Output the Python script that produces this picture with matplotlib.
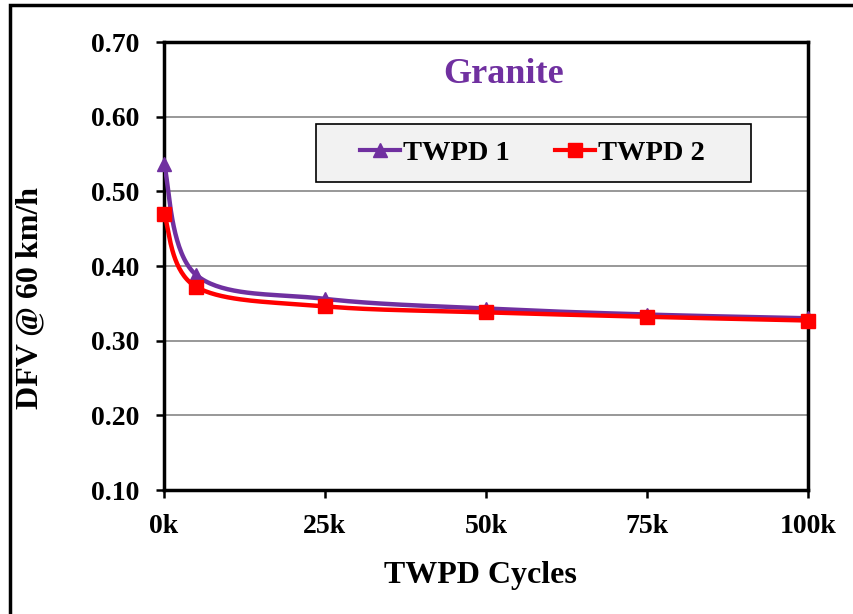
import numpy as np
import matplotlib
matplotlib.use("Agg")
import matplotlib.pyplot as plt
from matplotlib.patches import Rectangle

plt.rcParams['font.family'] = ['Liberation Serif', 'DejaVu Serif']
plt.rcParams['font.weight'] = 'bold'

cycles = [0, 5000, 25000, 50000, 75000, 100000]
twpd1 = [0.537, 0.388, 0.356, 0.343, 0.335, 0.330]
twpd2 = [0.470, 0.372, 0.346, 0.338, 0.332, 0.327]
xticks = [0, 25000, 50000, 75000, 100000]
xticklabels = ['0k', '25k', '50k', '75k', '100k']
yticks = [0.10, 0.20, 0.30, 0.40, 0.50, 0.60, 0.70]

XMIN, XMAX = 0, 100000
YMIN, YMAX = 0.10, 0.70


def excel_smooth(xs, ys, n=40):
    # Excel-style smoothed line: cubic bezier with 1/6 tension, done in axis-normalised space
    px = (np.array(xs, float) - XMIN) / (XMAX - XMIN)
    py = (np.array(ys, float) - YMIN) / (YMAX - YMIN)
    pts = np.column_stack([px, py])
    out = []
    t = np.linspace(0, 1, n)[:, None]
    for i in range(len(pts) - 1):
        p0 = pts[max(i - 1, 0)]
        p1 = pts[i]
        p2 = pts[i + 1]
        p3 = pts[min(i + 2, len(pts) - 1)]
        c1 = p1 + (p2 - p0) / 6
        c2 = p2 - (p3 - p1) / 6
        seg = (1 - t) ** 3 * p1 + 3 * (1 - t) ** 2 * t * c1 + 3 * (1 - t) * t ** 2 * c2 + t ** 3 * p2
        out.append(seg)
    out = np.vstack(out)
    return XMIN + out[:, 0] * (XMAX - XMIN), YMIN + out[:, 1] * (YMAX - YMIN)


fig = plt.figure(figsize=(8.54, 6.14), dpi=100)
ax = fig.add_axes([164 / 854, 1 - 490 / 614, 644 / 854, 448 / 614])

purple = '#7030A0'
red = '#FF0000'

sx, sy = excel_smooth(cycles, twpd1)
ax.plot(sx, sy, color=purple, lw=3.2, zorder=3, solid_capstyle='round')
ax.plot(cycles, twpd1, ls='none', marker='^', ms=10, color=purple, zorder=4, clip_on=False)
sx, sy = excel_smooth(cycles, twpd2)
ax.plot(sx, sy, color=red, lw=3.2, zorder=5, solid_capstyle='round')
ax.plot(cycles, twpd2, ls='none', marker='s', ms=10, color=red, zorder=6, clip_on=False)

ax.set_xlim(XMIN, XMAX)
ax.set_ylim(YMIN, YMAX)
ax.set_xticks(xticks)
ax.set_xticklabels(xticklabels)
ax.set_yticks(yticks)
ax.set_yticklabels(['%.2f' % v for v in yticks])
ax.yaxis.grid(True, color='#868686', lw=1.2)
ax.set_axisbelow(True)
for s in ax.spines.values():
    s.set_linewidth(2.5)
    s.set_color('black')
ax.tick_params(axis='both', direction='out', length=6, width=1.8, labelsize=20)
ax.tick_params(axis='y', pad=12)
ax.tick_params(axis='x', pad=11)

ax.set_xlabel('TWPD Cycles', fontsize=23, fontweight='bold', va='center')
ax.set_ylabel('DFV @ 60 km/h', fontsize=23, fontweight='bold', va='center')
ax.xaxis.set_label_coords((480 - 164) / 644, (490 - 576) / 448)
ax.yaxis.set_label_coords((30 - 164) / 644, (490 - 298) / 448)

ax.text(0.528, 0.928, 'Granite', transform=ax.transAxes, ha='center', va='center',
        fontsize=26, fontweight='bold', color=purple)

# legend box
ax.add_patch(Rectangle((0.236, 0.6875), 0.6755, 0.1295, transform=ax.transAxes,
                       facecolor='#F2F2F2', edgecolor='black', lw=1.2, zorder=7))
h1, = ax.plot([], [], color=purple, lw=3, marker='^', ms=10)
h2, = ax.plot([], [], color=red, lw=3, marker='s', ms=10)
leg = ax.legend([h1, h2], ['TWPD 1', 'TWPD 2'], loc='center', bbox_to_anchor=(0.572, 0.752),
                ncol=2, frameon=False, handlelength=1.4, handletextpad=0.1,
                columnspacing=1.6, prop={'weight': 'bold', 'size': 20.5})
leg.set_zorder(8)

# outer chart border
fig.patches.append(Rectangle((10 / 854, -0.1), 2, 1.1 - 5 / 614, transform=fig.transFigure,
                             facecolor='none', edgecolor='black', lw=2.5, zorder=0))

fig.savefig('out.png', dpi=100)
